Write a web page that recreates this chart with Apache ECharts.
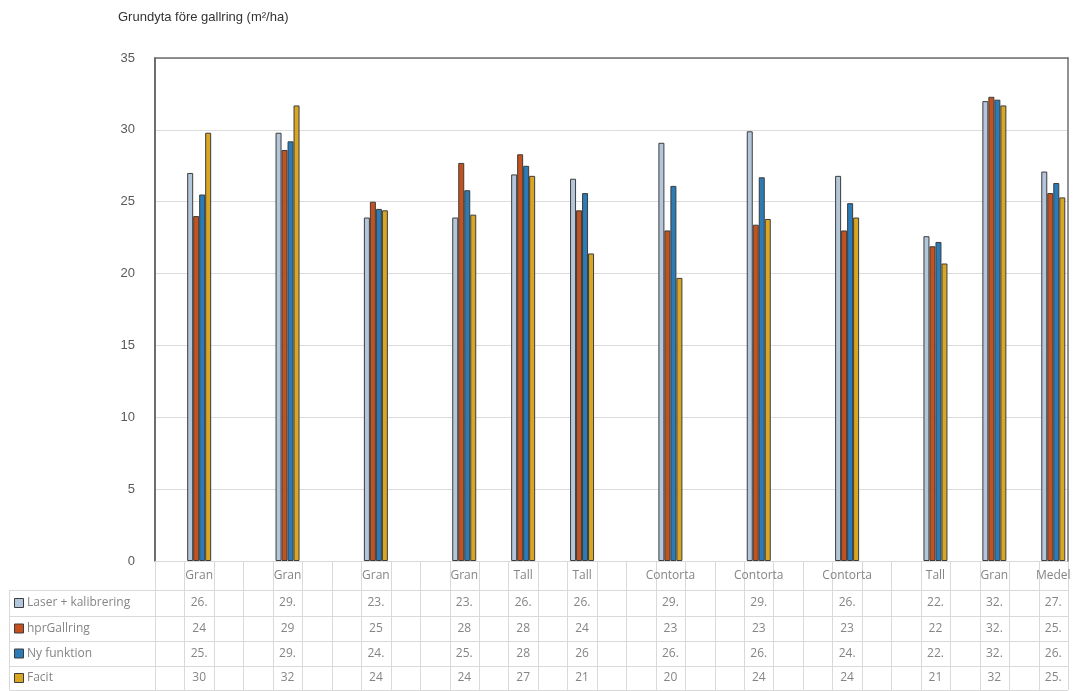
<!DOCTYPE html>
<html>
<head>
<meta charset="utf-8">
<style>
  html, body { margin: 0; padding: 0; background: #fff; }
  #main { width: 1076px; height: 691px; }
</style>
</head>
<body>
<div id="main"></div>
<script src="https://cdn.jsdelivr.net/npm/echarts@6/dist/echarts.min.js"></script>
<script>
// bestånd (trädslag) och antal tomma rader före varje i källtabellen
var categories = ['Gran', 'Gran', 'Gran', 'Gran', 'Tall', 'Tall', 'Contorta', 'Contorta', 'Contorta', 'Tall', 'Gran', 'Medel'];
var blanksBefore = [1, 2, 2, 2, 1, 1, 2, 2, 2, 2, 1, 1];
var seriesNames = ['Laser + kalibrering', 'hprGallring', 'Ny funktion', 'Facit'];

// grundyta, m2/ha
var laser = [27.0, 29.8, 23.9, 23.9, 26.9, 26.6, 29.1, 29.9, 26.8, 22.6, 32.0, 27.1];
var hpr   = [24.0, 28.6, 25.0, 27.7, 28.3, 24.4, 23.0, 23.4, 23.0, 21.9, 32.3, 25.6];
var ny    = [25.5, 29.2, 24.5, 25.8, 27.5, 25.6, 26.1, 26.7, 24.9, 22.2, 32.1, 26.3];
var facit = [29.8, 31.7, 24.4, 24.1, 26.8, 21.4, 19.7, 23.8, 23.9, 20.7, 31.7, 25.3];

// datatabellens text som den syns (smala kolumner klipper decimalerna)
var tableLaser = ['26.', '29.', '23.', '23.', '26.', '26.', '29.', '29.', '26.', '22.', '32.', '27.'];
var tableHpr   = ['24', '29', '25', '28', '28', '24', '23', '23', '23', '22', '32.', '25.'];
var tableNy    = ['25.', '29.', '24.', '25.', '28', '26', '26.', '26.', '24.', '22.', '32.', '26.'];
var tableFacit = ['30', '32', '24', '24', '27', '21', '20', '24', '24', '21', '32', '25.'];

var colors = ['#b3c6da', '#c4521e', '#2a7bb6', '#d8a623'];

// bygg kategoriaxeln med tomma rader
var axisData = [], slotOf = [];
categories.forEach(function (c, i) {
  for (var k = 0; k < blanksBefore[i]; k++) axisData.push('');
  slotOf.push(axisData.length);
  axisData.push(c);
});
function spread(vals) {
  var arr = axisData.map(function () { return null; });
  vals.forEach(function (v, i) { arr[slotOf[i]] = v; });
  return arr;
}

var chart = echarts.init(document.getElementById('main'));
var sans = '"Liberation Sans", Arial, sans-serif';
var tableFont = '"Open Sans", "Liberation Sans", sans-serif';
var textGray = '#858585';

var option = {
  animation: false,
  title: {
    text: 'Grundyta före gallring (m²/ha)',
    left: 118, top: 11, padding: 0,
    textStyle: { fontSize: 13, fontWeight: 'normal', color: '#333', fontFamily: sans }
  },
  grid: { left: 155, right: 8, top: 58, bottom: 130 },
  xAxis: [{
    type: 'category',
    data: axisData,
    axisLine: { lineStyle: { color: '#d9d9d9' } },
    axisTick: { show: false },
    axisLabel: { interval: 0, color: textGray, fontSize: 12, margin: 9, fontFamily: tableFont }
  }, {
    type: 'category',
    data: axisData,
    position: 'top',
    z: 5,
    axisLine: { onZero: false, lineStyle: { color: '#6e6e6e', width: 1.5 } },
    axisTick: { show: false },
    axisLabel: { show: false }
  }],
  yAxis: [{
    type: 'value',
    min: 0, max: 35, interval: 5,
    axisLine: { show: true, lineStyle: { color: '#6e6e6e', width: 2 } },
    axisTick: { show: false },
    axisLabel: { color: '#5a5a5a', fontSize: 13, margin: 20, fontFamily: sans },
    splitLine: { lineStyle: { color: '#dcdcdc' } }
  }, {
    type: 'value',
    min: 0, max: 35, interval: 5,
    position: 'right',
    z: 5,
    axisLine: { show: true, onZero: false, lineStyle: { color: '#6e6e6e', width: 1.5 } },
    axisTick: { show: false },
    axisLabel: { show: false },
    splitLine: { show: false }
  }],
  series: [laser, hpr, ny, facit].map(function (vals, i) {
    return {
      name: seriesNames[i],
      type: 'bar',
      data: spread(vals),
      barWidth: 6,
      barGap: '0%',
      itemStyle: { color: colors[i], borderColor: '#3c3c3c', borderWidth: 1 }
    };
  })
};
chart.setOption(option);

// datatabellen under diagrammet, x-positioner från kategoriaxeln
var x0 = chart.convertToPixel({ xAxisIndex: 0 }, 0);
var bw = chart.convertToPixel({ xAxisIndex: 0 }, 1) - x0;
var left = x0 - bw / 2;
var right = left + bw * axisData.length;
var rowLines = [590, 616, 641, 666, 690];
var rowCenters = [603, 628.5, 653.5, 678];
var tableRows = [tableLaser, tableHpr, tableNy, tableFacit];
var gridColor = '#d9d9d9';
var els = [];

for (var k = 0; k <= axisData.length; k++) {
  var xx = Math.round(left + k * bw) + 0.5;
  els.push({ type: 'line', shape: { x1: xx, y1: 562, x2: xx, y2: 690 }, style: { stroke: gridColor, lineWidth: 1 } });
}
rowLines.forEach(function (y) {
  els.push({ type: 'line', shape: { x1: 9.5, y1: y + 0.5, x2: right, y2: y + 0.5 }, style: { stroke: gridColor, lineWidth: 1 } });
});
els.push({ type: 'line', shape: { x1: 9.5, y1: 590, x2: 9.5, y2: 690 }, style: { stroke: gridColor, lineWidth: 1 } });

tableRows.forEach(function (row, r) {
  els.push({
    type: 'rect',
    shape: { x: 14.5, y: rowCenters[r] - 4.5, width: 9, height: 9 },
    style: { fill: colors[r], stroke: '#3c3c3c', lineWidth: 1 }
  });
  els.push({
    type: 'text',
    style: { x: 27, y: rowCenters[r], text: seriesNames[r], fill: textGray, fontSize: 12, fontFamily: tableFont, verticalAlign: 'middle' }
  });
  row.forEach(function (t, i) {
    var cx = chart.convertToPixel({ xAxisIndex: 0 }, slotOf[i]);
    els.push({
      type: 'text',
      style: { x: cx, y: rowCenters[r], text: t, fill: textGray, fontSize: 12, fontFamily: tableFont, align: 'center', verticalAlign: 'middle' }
    });
  });
});

chart.setOption({ graphic: els });
</script>
</body>
</html>
